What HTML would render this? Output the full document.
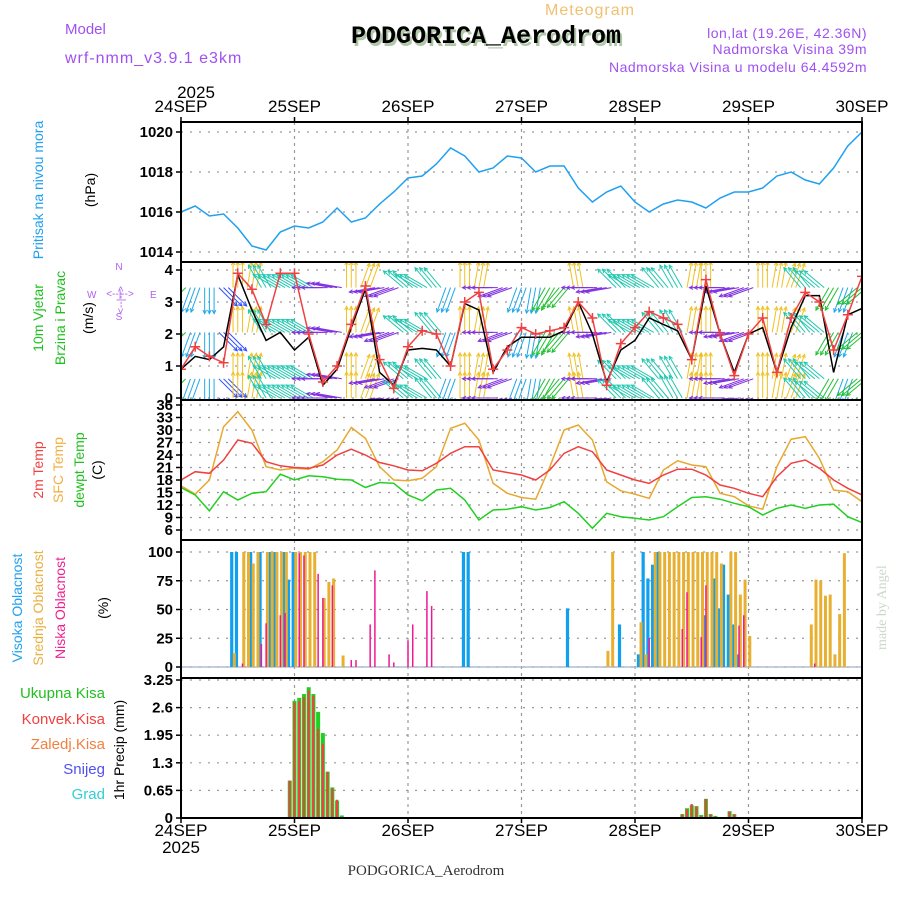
<!DOCTYPE html>
<html><head><meta charset="utf-8"><style>
html,body{margin:0;padding:0;background:#fff}
svg{display:block;font-family:"Liberation Sans",sans-serif}
</style></head><body>
<svg id="chart" width="900" height="900" viewBox="0 0 900 900">
<g id="hdr">
<text x="590" y="15" font-size="16" fill="#f0c070" text-anchor="middle" letter-spacing="1">Meteogram</text>
<text x="65" y="34" font-size="15" fill="#a050f0">Model</text>
<text x="65" y="63" font-size="16" fill="#a050f0" letter-spacing="1">wrf-nmm_v3.9.1 e3km</text>
<text x="488" y="46" font-size="25" font-weight="bold" font-family="Liberation Mono,monospace" fill="#b0c8a8" text-anchor="middle">PODGORICA_Aerodrom</text>
<text x="486" y="43" font-size="25" font-weight="bold" font-family="Liberation Mono,monospace" fill="#000" text-anchor="middle">PODGORICA_Aerodrom</text>
<text x="867" y="38" font-size="14" fill="#a050f0" text-anchor="end" letter-spacing="0.5">lon,lat (19.26E, 42.36N)</text>
<text x="867" y="54" font-size="14" fill="#a050f0" text-anchor="end" letter-spacing="0.5">Nadmorska Visina 39m</text>
<text x="867" y="72" font-size="14" fill="#a050f0" text-anchor="end" letter-spacing="0.5">Nadmorska Visina u modelu 64.4592m</text>
<text x="426" y="875" font-size="15" fill="#333" font-family="Liberation Serif,serif" text-anchor="middle">PODGORICA_Aerodrom</text>
<text transform="translate(886,650) rotate(-90)" font-size="14" fill="#ccd8cc" font-family="Liberation Serif,serif">made by Angel</text>
</g>
<g font-size="14">
<text transform="translate(43,190) rotate(-90)" text-anchor="middle" fill="#20a0f0">Pritisak na nivou mora</text>
<text transform="translate(95,190) rotate(-90)" text-anchor="middle" fill="#000">(hPa)</text>
<text transform="translate(43,318) rotate(-90)" text-anchor="middle" fill="#20c020">10m Vjetar</text>
<text transform="translate(65,318) rotate(-90)" text-anchor="middle" fill="#20c020">Brzina i Pravac</text>
<text transform="translate(93,318) rotate(-90)" text-anchor="middle" fill="#000">(m/s)</text>
<g fill="#b060f0" font-size="10">
<text x="119" y="270" text-anchor="middle">N</text><text x="119" y="320" text-anchor="middle">S</text>
<text x="87" y="298">W</text><text x="150" y="298">E</text>
<text x="120" y="297" text-anchor="middle">&lt;--|--&gt;</text>
<text transform="translate(124,300) rotate(-90)" text-anchor="middle">&lt;--|--&gt;</text>
</g>
<text transform="translate(43,470) rotate(-90)" text-anchor="middle" fill="#f04040">2m Temp</text>
<text transform="translate(63,470) rotate(-90)" text-anchor="middle" fill="#f0b040">SFC Temp</text>
<text transform="translate(84,470) rotate(-90)" text-anchor="middle" fill="#20c020">dewpt Temp</text>
<text transform="translate(102,470) rotate(-90)" text-anchor="middle" fill="#000">(C)</text>
<text transform="translate(22,608) rotate(-90)" text-anchor="middle" fill="#20a0f0">Visoka Oblacnost</text>
<text transform="translate(43,608) rotate(-90)" text-anchor="middle" fill="#e8b040">Srednja Oblacnost</text>
<text transform="translate(65,608) rotate(-90)" text-anchor="middle" fill="#f02090">Niska Oblacnost</text>
<text transform="translate(108,608) rotate(-90)" text-anchor="middle" fill="#000">(%)</text>
<g text-anchor="end" font-size="15">
<text x="105" y="698" fill="#20c020">Ukupna Kisa</text>
<text x="105" y="724" fill="#f04040">Konvek.Kisa</text>
<text x="105" y="749" fill="#f08040">Zaledj.Kisa</text>
<text x="105" y="774" fill="#5050f0">Snijeg</text>
<text x="105" y="799" fill="#30d0d0">Grad</text>
</g>
<text transform="translate(124,750) rotate(-90)" text-anchor="middle" fill="#000">1hr Precip (mm)</text>
</g>
<g id="plot"></g>
</svg>
<script>
const dayLabels=["24SEP","25SEP","26SEP","27SEP","28SEP","29SEP","30SEP"];
const pressure=[1016.0,1016.3,1015.8,1015.9,1015.2,1014.3,1014.1,1015.0,1015.3,1015.2,1015.5,1016.2,1015.5,1015.7,1016.4,1017.0,1017.7,1017.8,1018.4,1019.2,1018.8,1018.0,1018.2,1018.8,1018.7,1018.0,1018.3,1018.3,1017.2,1016.5,1017.0,1017.3,1016.5,1016.0,1016.4,1016.6,1016.5,1016.2,1016.7,1017.0,1017.0,1017.2,1017.8,1018.0,1017.6,1017.4,1018.2,1019.3,1020.0];
const pressTicks=[1014,1016,1018,1020];
const windSpeed=[0.9,1.3,1.2,1.6,3.85,2.75,1.8,2.05,1.5,1.9,0.4,0.9,2.2,3.4,0.8,0.4,1.5,1.55,1.5,1.0,2.95,2.75,0.8,1.6,1.9,1.9,1.9,2.1,3.0,2.0,0.5,1.5,1.8,2.5,2.3,2.1,1.2,3.5,2.0,0.8,2.0,2.2,0.8,2.2,3.2,3.2,0.8,2.6,2.8];
const windGust=[0.9,1.6,1.3,1.1,3.9,3.4,2.3,3.9,3.9,2.0,0.5,1.0,2.3,3.5,1.2,0.3,1.6,2.1,2.0,1.0,3.0,3.3,0.9,1.5,2.2,2.0,2.1,2.2,3.0,2.5,0.4,1.7,2.2,2.7,2.5,2.3,1.2,3.7,2.0,0.7,2.0,2.5,0.8,2.5,3.3,3.0,1.5,2.6,3.8];
const windDir=[225,200,180,135,0,10,330,300,300,300,270,280,0,20,260,250,310,300,320,200,0,10,270,250,200,190,210,220,350,270,260,315,300,300,320,330,10,0,270,260,250,0,10,20,320,310,210,200,230];
const windTicks=[0,1,2,3,4];
const temp2m=[18,20,19.6,22.8,27.6,26.8,22.4,21.4,21,20.8,21.6,24,25.4,24,22.2,21.4,20.4,20.2,22,24.4,26,26,20.4,19.8,19.2,18,20.4,24.4,26,24.8,20.4,19.2,18,17.2,19.2,20.6,20.6,19.2,16.8,16,14.8,14,18.8,22,22.8,20.8,18,16,14.4];
const tempSfc=[16.6,14.6,18,30.8,34.4,30,21.2,20.4,20.8,20.6,22.4,25.2,30.6,28,21.2,18,17.8,18.4,21.2,30.4,31.6,27.6,17.2,14.8,13.8,13.4,21.2,30,31.2,27.6,17.6,15.4,14.6,13.6,20.4,22.6,21.6,21.2,14.8,14,11.8,11,21.2,27.8,28.4,23.2,15.6,15.2,12.8];
const dewpt=[16.2,14.4,10.6,15.2,13.2,14.8,15.2,19.4,18,19,18.8,18.2,18,16.2,17.4,17.2,14.4,13,15.6,16,13.2,8.4,10.8,11,11.6,10.8,11.4,12.8,10,6.4,10,9.2,8.8,8.4,9.2,11.6,13.8,14,13.4,12.4,11.6,9.6,11.2,12,11.2,12,12.2,9.2,7.8];
const tempTicks=[6,9,12,15,18,21,24,27,30,33,36];
const highHours=[11,12,15,17,19,20,22,23,24,60,61,82,93,97,98,99,100,101,111,113,114,115,116,117,118];
const highVals=[100,100,100,100,100,100,100,76,100,100,100,51,37,11,100,77,89,100,45,77,51,89,63,37,11];
const midHours=[11,13,14,15,16,18,19,20,21,22,24,25,26,27,28,30,31,32,34,90,91,97,98,100,101,102,103,104,105,106,107,108,109,110,111,112,113,114,116,117,118,119,120,133,134,135,136,137,138,139,140];
const midVals=[12,100,100,90,100,100,100,100,100,100,100,100,100,100,100,60,74,77,10,14,100,39,11,100,100,100,100,100,100,100,100,100,100,100,100,100,100,90,100,100,63,76,27,37,76,75,62,63,11,46,99];
const lowHours=[13,17,18,21,22,25,26,29,30,32,36,37,40,41,44,45,48,49,52,53,99,106,107,110,111,118,119,134];
const lowVals=[3,20,38,45,47,99,97,81,60,71,6,6,37,84,11,4,23,37,66,53,25,33,65,26,71,36,45,3];
const cloudTicks=[0,25,50,75,100];
const precipHours=[18,23,24,25,26,27,28,29,30,31,32,33,34,106,107,108,109,110,111,112,113,116,117];
const precipTotal=[0.02,0.88,2.76,2.83,2.92,3.08,2.92,2.5,2.0,1.09,0.72,0.41,0.06,0.09,0.23,0.3,0.28,0.07,0.45,0.09,0.05,0.16,0.09];
const precipConv=[0.02,0.88,2.72,2.75,2.85,3.0,2.88,2.1,1.75,1.09,0.7,0.43,0.02,0.09,0.2,0.33,0.27,0.04,0.45,0.09,0.03,0.15,0.09];
const precipTicks=[0,0.65,1.3,1.95,2.6,3.25];

const NS="http://www.w3.org/2000/svg";
const plot=document.getElementById('plot');
const X0=181,X1=862;
function xH(h){return X0+h*(X1-X0)/144;}
function x3(i){return xH(i*3);}
function mk(tag,attrs,parent){const e=document.createElementNS(NS,tag);for(const k in attrs)e.setAttribute(k,attrs[k]);(parent||plot).appendChild(e);return e;}
const panels=[
 {top:122,bot:262,y:v=>252-(v-1014)*20,ticks:pressTicks,fmt:v=>String(v),name:'pressure'},
 {top:262,bot:400,y:v=>398-v*32,ticks:windTicks,fmt:v=>String(v),name:'wind'},
 {top:400,bot:540,y:v=>405+(36-v)*125/30,ticks:tempTicks,fmt:v=>String(v),name:'temp'},
 {top:540,bot:678,y:v=>667-v*1.15,ticks:cloudTicks,fmt:v=>String(v),name:'cloud'},
 {top:678,bot:818,y:v=>818-v*42.46,ticks:precipTicks,fmt:v=>String(v),name:'precip'}];
const defs=mk('defs',{});
panels.forEach((p,k)=>{const c=mk('clipPath',{id:'clip'+k},defs);mk('rect',{x:X0,y:p.top,width:X1-X0,height:p.bot-p.top},c);});
panels.forEach((p,k)=>{
 const g=mk('g',{});
 
 
 p.ticks.forEach(t=>{const y=p.y(t);
  mk('line',{x1:X0,x2:X1,y1:y,y2:y,stroke:'#999','stroke-dasharray':'2,7','stroke-width':1.2},g);
  mk('line',{x1:X0-5,x2:X0,y1:y,y2:y,stroke:'#000','stroke-width':1.5},g);
  const tx=mk('text',{x:X0-8,y:y+5,'text-anchor':'end','font-size':15,'font-weight':'bold',fill:'#000'},g);
  
  
  tx.textContent=p.fmt(t);});
 for(let d=1;d<6;d++){const x=xH(d*24);mk('line',{x1:x,x2:x,y1:p.top,y2:p.bot,stroke:'#999','stroke-dasharray':'3,4','stroke-width':1.2},g);}
});
dayLabels.forEach((d,i)=>{const x=xH(i*24);
 const t1=mk('text',{x:x,y:112,'text-anchor':'middle','font-size':17,fill:'#000'});
 
 
 t1.textContent=d;
 const t2=mk('text',{x:x,y:836,'text-anchor':'middle','font-size':17,fill:'#000'});
 
 
 t2.textContent=d;
 mk('line',{x1:x,x2:x,y1:117,y2:122,stroke:'#000','stroke-width':1.5});
 mk('line',{x1:x,x2:x,y1:818,y2:823,stroke:'#000','stroke-width':1.5});
});
const yr1=mk('text',{x:196,y:98,'text-anchor':'middle','font-size':17});yr1.textContent='2025';


const yr2=mk('text',{x:181,y:853,'text-anchor':'middle','font-size':17});yr2.textContent='2025';



function line(arr,yf,color,name,k,w){
 const pts=arr.map((v,i)=>x3(i).toFixed(1)+','+yf(v).toFixed(1)).join(' ');
 const el=mk('polyline',{points:pts,fill:'none',stroke:color,'stroke-width':w||1.5,'clip-path':'url(#clip'+k+')'});
 
 
 return el;}
line(pressure,panels[0].y,'#20a0f0','pressure-line',0);
const dirCols=['#f0c020','#ff8030','#e0208a','#3050ff','#20a8e8','#20c030','#8030e0','#20c8b0'];
function dirColor(d){return dirCols[Math.round(((d%360)+360)%360/45)%8];}
const wg=mk('g',{'clip-path':'url(#clip1)'});


const rows=[0,0.6,2.05,3.45];
windDir.forEach((d,i)=>{
 const col=dirColor(d);const a=d*Math.PI/180;
 for(let s=-1;s<=1;s++){
  const x=x3(i)+s*4.7;
  rows.forEach(r=>{
   const y=panels[1].y(r);const L=26;
   const ex=x+L*Math.sin(a),ey=y-L*Math.cos(a);
   const ar=mk('g',{},wg);
   
   
   mk('line',{x1:x,y1:y,x2:ex,y2:ey,stroke:col,'stroke-width':1},ar);
   const h1=a+Math.PI*0.85,h2=a-Math.PI*0.85;
   mk('polyline',{points:(ex+4*Math.sin(h1))+','+(ey-4*Math.cos(h1))+' '+ex+','+ey+' '+(ex+4*Math.sin(h2))+','+(ey-4*Math.cos(h2)),fill:'none',stroke:col,'stroke-width':1},ar);
  });}
});
line(windSpeed,panels[1].y,'#000','wind-speed-line',1);
line(windGust,panels[1].y,'#f04040','wind-gust-line',1);
windGust.forEach((v,i)=>{const x=x3(i),y=panels[1].y(v);
 const m=mk('path',{d:`M${x-5},${y}H${x+5}M${x},${y-5}V${y+5}`,stroke:'#f04040','stroke-width':1.5,'clip-path':'url(#clip1)'});
 
 });
line(tempSfc,panels[2].y,'#e8a830','sfc-temp-line',2);
line(temp2m,panels[2].y,'#f04040','t2m-line',2);
line(dewpt,panels[2].y,'#20d020','dewpoint-line',2);
const cy=panels[3].y;
mk('line',{x1:X0,x2:X1,y1:cy(0),y2:cy(0),stroke:'#a0b0c8','stroke-width':1.2});
function bars(hours,vals,dx,w,col,name){hours.forEach((h,i)=>{const x=xH(h)+dx,y=cy(vals[i]);
 const r=mk('rect',{x:x-w/2,y:y,width:w,height:cy(0)-y,fill:col});
 
 });}
bars(highHours,highVals,-1.3,3.2,'#10a0f0','high-cloud-bar');
bars(midHours,midVals,1.3,3,'#e8b030','mid-cloud-bar');
bars(lowHours,lowVals,0,1.5,'#f01890','low-cloud-bar');
const py=panels[4].y;
precipHours.forEach((h,i)=>{const x=xH(h);
 const r1=mk('rect',{x:x-2,y:py(precipTotal[i]),width:4,height:py(0)-py(precipTotal[i]),fill:'#20d020'});
 
 
 const r2=mk('rect',{x:x-1.2,y:py(precipConv[i]),width:2.2,height:py(0)-py(precipConv[i]),fill:'#f04040'});
 
 });
panels.forEach(p=>{const f=mk('rect',{x:X0,y:p.top,width:X1-X0,height:p.bot-p.top,fill:'none',stroke:'#000','stroke-width':2});
 
 });
</script>
</body></html>
